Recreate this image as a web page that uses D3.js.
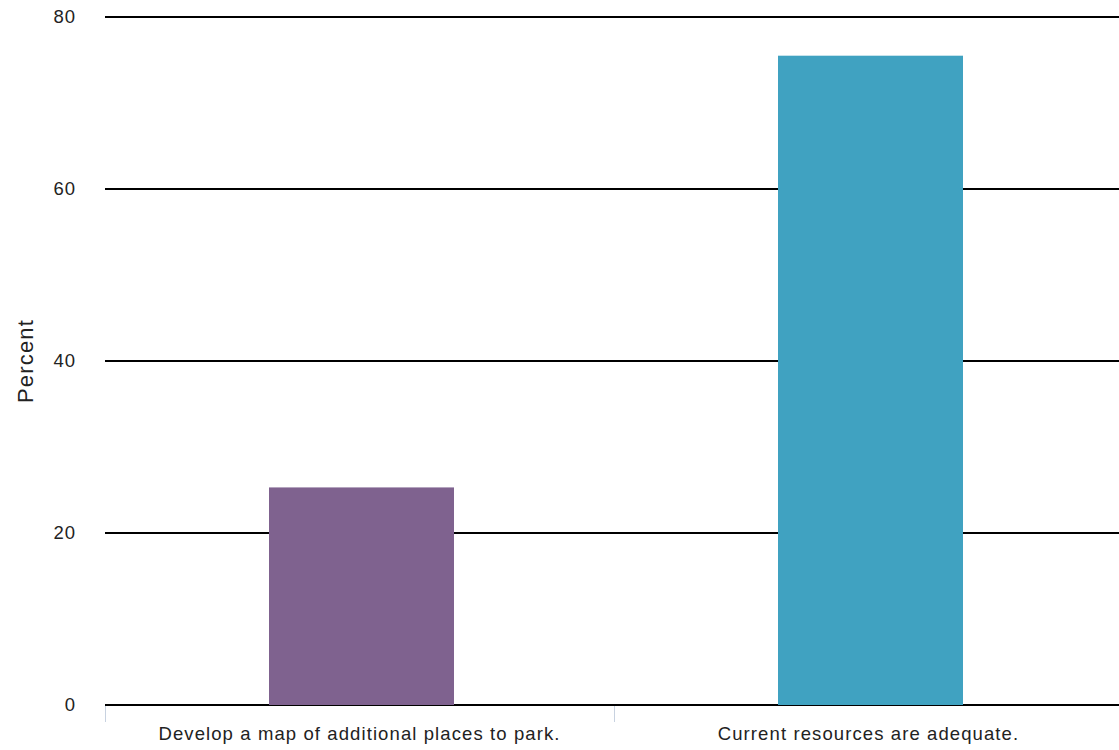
<!DOCTYPE html>
<html>
<head>
<meta charset="utf-8">
<script src="https://cdn.jsdelivr.net/npm/d3@7"></script>
<style>
body { margin: 0; background: #fff; }
text { font-family: "Liberation Sans", Arial, sans-serif; }
</style>
</head>
<body>
<svg id="viz" width="1119" height="750"></svg>
<script>
// data
var categories = ["Develop a map of additional places to park.", "Current resources are adequate."];
var values = [25.3, 75.5];
var colors = ["#7f628f", "#40a2c1"];
var yTicks = [0, 20, 40, 60, 80];

var svg = d3.select("#viz");
var plotLeft = 105, plotRight = 1123, plotTop = 17, plotBottom = 705;

var x = d3.scaleBand().domain(categories).range([plotLeft, plotRight]);
var y = d3.scaleLinear().domain([0, 80]).range([plotBottom, plotTop]);
var barW = 185;

// grid lines
svg.append("g").selectAll("line").data(yTicks).enter().append("line")
    .attr("x1", plotLeft).attr("x2", plotRight)
    .attr("y1", d => y(d)).attr("y2", d => y(d))
    .attr("stroke", "#000").attr("stroke-width", 2);

// y tick labels
svg.append("g").selectAll("text").data(yTicks).enter().append("text")
    .attr("x", 76).attr("y", d => y(d)).attr("dy", "0.35em")
    .attr("text-anchor", "end").attr("font-size", 18.5).attr("fill", "#222")
    .style("letter-spacing", "1px")
    .text(d => d);

// bars
svg.append("g").selectAll("rect").data(values).enter().append("rect")
    .attr("x", (d, i) => x(categories[i]) + (x.bandwidth() - barW) / 2 + 2)
    .attr("width", barW)
    .attr("y", d => y(d))
    .attr("height", d => y(0) - y(d))
    .attr("fill", (d, i) => colors[i]);

// bottom axis ticks
svg.append("g").selectAll("line").data(categories).enter().append("line")
    .attr("x1", d => x(d) + 0.5).attr("x2", d => x(d) + 0.5)
    .attr("y1", plotBottom + 1).attr("y2", plotBottom + 17)
    .attr("stroke", "#c8d2e0").attr("stroke-width", 1);

// category labels
svg.append("g").selectAll("text").data(categories).enter().append("text")
    .attr("x", d => x(d) + x.bandwidth() / 2)
    .attr("y", 739.5)
    .attr("text-anchor", "middle").attr("font-size", 18.5).attr("fill", "#222")
    .style("letter-spacing", "1.1px")
    .text(d => d);

// y axis title
svg.append("text")
    .attr("transform", "translate(33," + ((plotTop + plotBottom) / 2) + ") rotate(-90)")
    .attr("text-anchor", "middle").attr("font-size", 22).attr("fill", "#222")
    .style("letter-spacing", "1.2px")
    .text("Percent");
</script>
</body>
</html>
